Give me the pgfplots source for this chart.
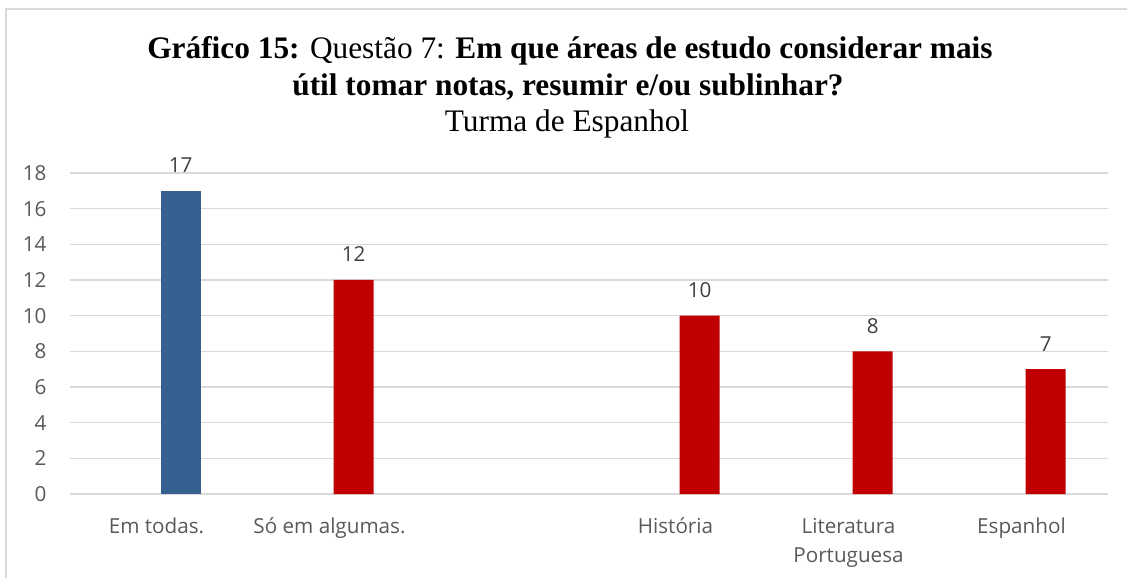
\documentclass[border=0pt]{standalone}
\usepackage{pgfplots}
\pgfplotsset{compat=1.18}
\usepackage{fontspec}
\setmainfont{Liberation Serif}
\newfontfamily\labelfont{Open Sans}
\definecolor{barblue}{HTML}{35608F}
\definecolor{barred}{HTML}{C00000}
\definecolor{gridgray}{HTML}{D9D9D9}
\definecolor{ticktext}{HTML}{595959}
\definecolor{datatext}{HTML}{404040}
\begin{document}
\begin{tikzpicture}
\path[use as bounding box] (0pt,0pt) rectangle (845.25pt,433.5pt);
% chart area border
\draw[gridgray, line width=0.9pt] (4.5pt,0pt) -- (4.5pt,426.75pt) -- (845.25pt,426.75pt);
% title
\begin{scope}[every node/.style={anchor=base, inner sep=0pt, font=\fontsize{23.5}{27}\selectfont}]
\node at (427.5pt,389.25pt) {\textbf{Gráfico 15:} Questão 7: \textbf{Em que áreas de estudo considerar mais}};
\node at (426pt,361.875pt) {\textbf{útil tomar notas, resumir e/ou sublinhar?}};
\node at (425.25pt,334.5pt) {Turma de Espanhol};
\end{scope}
\begin{axis}[
  at={(52.5pt,63pt)}, anchor=south west,
  scale only axis,
  width=778.5pt, height=240.75pt,
  xmin=-0.5, xmax=5.5,
  ymin=0, ymax=18,
  ytick={0,2,...,18},
  xtick={0,1,3,4,5},
  xticklabels={Em todas., Só em algumas., História, {\begin{tabular}[t]{@{}c@{}}Literatura\\Portuguesa\end{tabular}}, Espanhol},
  major tick length=0pt,
  axis line style={draw=none},
  ymajorgrids,
  grid style={gridgray, line width=1.1pt},
  /pgf/number format/assume math mode=true,
  ticklabel style={font=\labelfont\fontsize{15.5}{21.75}\selectfont, text=ticktext, inner sep=0pt},
  yticklabel style={anchor=east, xshift=-17.5pt},
  xticklabel style={anchor=base, yshift=-29.25pt},
  clip=false,
  ybar, bar shift=0pt, bar width=30pt,
  nodes near coords,
  every node near coord/.append style={font=\labelfont\fontsize{15.5}{21.75}\selectfont, text=datatext, anchor=base, inner sep=0pt, yshift=13.5pt},
]
\addplot[fill=barblue, draw=none] coordinates {(0.14,17)};
\addplot[fill=barred, draw=none] coordinates {(1.14,12) (3.14,10) (4.14,8) (5.14,7)};
\end{axis}
\end{tikzpicture}
\end{document}
